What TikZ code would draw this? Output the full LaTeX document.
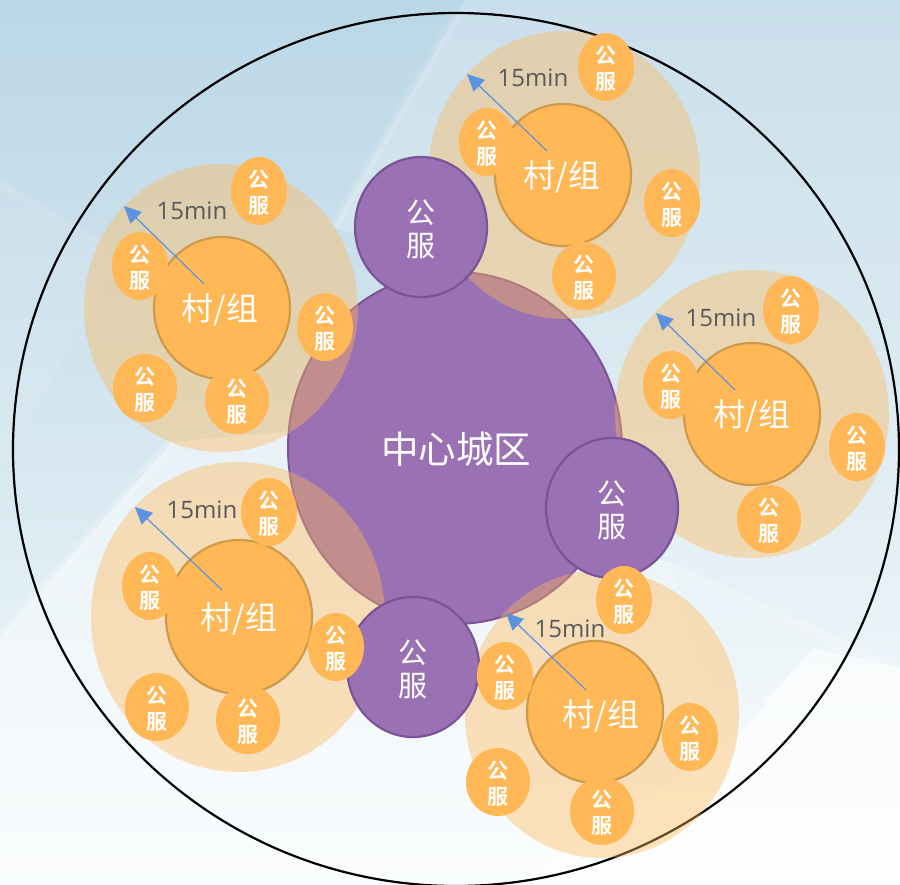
\documentclass[tikz,border=0pt]{standalone}
\usepackage{fontspec}
\setmainfont{Open Sans}
\newfontfamily\cjk{Noto Sans CJK SC}
\newfontfamily\cjkb{Noto Sans CJK SC Bold}
\usetikzlibrary{arrows.meta}
\definecolor{porange}{HTML}{FFB855}
\definecolor{pedge}{HTML}{CE9A4C}
\definecolor{ppurple}{HTML}{9A71B3}
\definecolor{pedgep}{HTML}{7A5398}
\definecolor{parrow}{HTML}{5B93E0}
\tikzset{
 zonefill/.style={fill=porange,fill opacity=.4,draw=none},
 villagefill/.style={fill=porange,draw=pedge,line width=2.2pt},
 purp/.style={fill=ppurple,draw=pedgep,line width=2.2pt},
 whitet/.style={text=white,align=center,inner sep=0pt},
 smallt/.style={text=white,font=\cjkb\fontsize{21}{26}\selectfont,align=center,inner sep=0pt},
 vilt/.style={whitet,font=\cjk\fontsize{32}{36}\selectfont},
 purt/.style={whitet,font=\cjk\fontsize{29}{33}\selectfont},
 mint/.style={text=black!65,font=\fontsize{24}{26}\selectfont,inner sep=0pt},
 walk/.style={draw=parrow,line width=1.2pt,-{Triangle[length=17pt,width=16pt]}},
}
\newcommand{\sfw}[3]{%
 \fill[porange] (#1,#2) ellipse [x radius=#3,y radius=34];
 \node[smallt] (fw#1x#2) at (#1,#2+1.5) {公\\服};
}
\newcommand{\vcircle}[6]{%
 \path[villagefill] (#1,#2) ellipse [x radius=#3,y radius=#4];
 \node[vilt] (v#1) at (#5,#6) {村/组};
}
\newcommand{\walker}[5]{%
 \coordinate (ws#5) at (#1,#2); \coordinate (we#5) at (#3,#4);
 \draw[walk] (ws#5) -- (we#5);
}
\begin{document}
\begin{tikzpicture}[x=1pt,y=-1pt]
\useasboundingbox (0,0) rectangle (900,884);
\clip (0,0) rectangle (900,884);
% background
\shade[top color={rgb,255:red,187;green,215;blue,230},bottom color={rgb,255:red,248;green,252;blue,254},middle color={rgb,255:red,214;green,231;blue,240}] (0,0) rectangle (900,884);
\fill[white,opacity=.22] (900,0) -- (465,0) -- (333,227) -- (460,270) -- (670,563) -- (900,668) -- cycle;
\fill[white,opacity=.08] (0,183) -- (120,262) -- (0,470) -- cycle;
\fill[white,opacity=.45] (0,637) -- (172,442) -- (300,430) -- (670,563) -- (733,740) -- (520,884) -- (0,884) -- cycle;
\fill[white,opacity=.30] (670,563) -- (900,668) -- (813,648) -- (733,740) -- cycle;
\fill[white,opacity=.75] (733,740) -- (813,648) -- (900,668) -- (900,884) -- (520,884) -- cycle;
% pale highlight bands
\draw[white,opacity=.12,line width=9pt] (458,12) -- (335,225);
\draw[white,opacity=.18,line width=10pt] (172,442) -- (0,637);
\draw[white,opacity=.10,line width=7pt] (0,183) -- (120,255);
\draw[white,opacity=.18,line width=9pt] (670,563) -- (813,630) -- (900,668);
% big circle
\draw[black,line width=2.2pt] (456,449.5) ellipse [x radius=443,y radius=436.5];
% centre
\fill[ppurple] (455,448) ellipse [x radius=167,y radius=176];
\draw[pedgep,line width=2pt] (455,448) ellipse [x radius=167,y radius=176];
% zones
\path[zonefill] (564,175) ellipse [x radius=136,y radius=144];
\path[zonefill] (221,308) ellipse [x radius=137,y radius=144];
\path[zonefill] (752,414) ellipse [x radius=137,y radius=144];
\path[zonefill] (238,617) ellipse [x radius=147,y radius=155];
\path[zonefill] (602,714) ellipse [x radius=137,y radius=144];
% village circles
\vcircle{563}{175}{68}{71}{562}{176.5}
\vcircle{222}{308}{68}{71}{220}{309.5}
\vcircle{752}{414}{68}{71}{752}{415.5}
\vcircle{239}{617}{73}{77}{239}{618.5}
\vcircle{595}{712}{68}{71}{601}{715.5}
% purple service circles
\path[purp] (421,227) ellipse [x radius=66,y radius=70];
\path[purp] (612,508) ellipse [x radius=66,y radius=70];
\path[purp] (413,667) ellipse [x radius=66,y radius=70];
\node[purt] (p1) at (421,229) {公\\服};
\node[purt] (p2) at (612,510) {公\\服};
\node[purt] (p3) at (413,669) {公\\服};
% services
\sfw{606}{67}{28}\sfw{487}{142}{28}\sfw{672}{203}{28}\sfw{584}{276}{32}
\sfw{259}{191}{28}\sfw{140}{266}{28}\sfw{325}{327}{28}\sfw{237}{400}{32}\sfw{145}{388}{32}
\sfw{791}{310}{28}\sfw{671}{385}{28}\sfw{857}{447}{28}\sfw{769}{519}{32}
\sfw{269}{512}{28}\sfw{150}{586}{28}\sfw{336}{647}{28}\sfw{248}{720}{32}\sfw{157}{707}{32}
\sfw{624}{600}{28}\sfw{505}{676}{28}\sfw{690}{737}{28}\sfw{602}{811}{32}\sfw{498}{782}{32}
% arrows
\walker{547}{151}{467}{74}{a}
\walker{204}{284}{124}{206}{b}
\walker{735}{390}{656}{313}{c}
\walker{222}{590}{135}{507}{d}
\walker{586}{690}{506}{613}{e}
\node[mint] (ma) at (533,78) {15min};
\node[mint] (mb) at (192,211) {15min};
\node[mint] (mc) at (721,318) {15min};
\node[mint] (md) at (202,510) {15min};
\node[mint] (me) at (570,629) {15min};
\node[whitet,font=\cjk\fontsize{37.5}{40}\selectfont] (cc) at (456,449) {中心城区};
\end{tikzpicture}
\end{document}
